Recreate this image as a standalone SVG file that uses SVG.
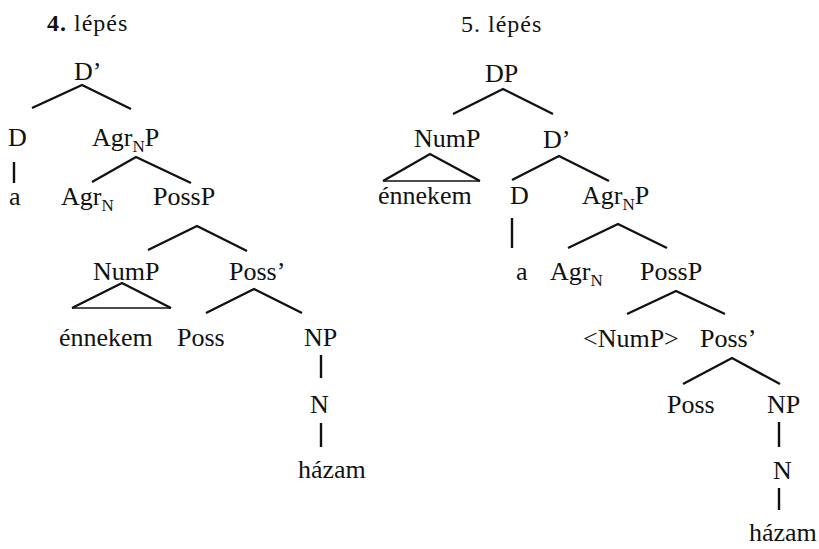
<svg xmlns="http://www.w3.org/2000/svg" width="819" height="549" viewBox="0 0 819 549" font-family="'Liberation Serif', 'Times New Roman', serif">
<style>
text{font-family:'Liberation Serif','Times New Roman',serif;font-size:26px;fill:#111}
.t{font-size:24px;letter-spacing:1px}
.sub{font-size:17px}
.e line,.e polyline{stroke:#111;stroke-width:2.4;fill:none;stroke-linecap:butt;stroke-linejoin:miter}
.e line.base{stroke-width:1.6}
</style>
<rect width="819" height="549" fill="#fff"/>
<text class="t" x="47" y="31"><tspan font-weight="bold">4.</tspan> lépés</text>
<text class="t" x="461" y="32">5. lépés</text>
<g id="left-tree">
<g id="L-Dbar"><text x="74" y="80">D’</text></g>
<g id="L-D"><text x="8" y="146">D</text></g>
<g id="L-a"><text x="9" y="205">a</text></g>
<g id="L-AgrNP"><text x="92" y="146">Agr<tspan class="sub" dy="6">N</tspan><tspan dy="-6">P</tspan></text></g>
<g id="L-AgrN"><text x="61" y="205">Agr<tspan class="sub" dy="6">N</tspan></text></g>
<g id="L-PossP"><text x="153" y="205">PossP</text></g>
<g id="L-NumP"><text x="93" y="280">NumP</text></g>
<g id="L-Possbar"><text x="229" y="280">Poss’</text></g>
<g id="L-ennekem"><text x="59" y="346">énnekem</text></g>
<g id="L-Poss"><text x="177" y="346">Poss</text></g>
<g id="L-NP"><text x="304" y="346">NP</text></g>
<g id="L-N"><text x="310" y="413">N</text></g>
<g id="L-hazam"><text x="298" y="478">házam</text></g>
</g>
<g id="right-tree">
<g id="R-DP"><text x="485" y="82">DP</text></g>
<g id="R-NumP"><text x="414" y="147">NumP</text></g>
<g id="R-Dbar"><text x="543" y="148">D’</text></g>
<g id="R-ennekem"><text x="378" y="204">énnekem</text></g>
<g id="R-D"><text x="510" y="204">D</text></g>
<g id="R-AgrNP"><text x="582" y="204">Agr<tspan class="sub" dy="6">N</tspan><tspan dy="-6">P</tspan></text></g>
<g id="R-a"><text x="516" y="280">a</text></g>
<g id="R-AgrN"><text x="550" y="280">Agr<tspan class="sub" dy="6">N</tspan></text></g>
<g id="R-PossP"><text x="640" y="280">PossP</text></g>
<g id="R-NumPtrace"><text x="583" y="347">&lt;NumP&gt;</text></g>
<g id="R-Possbar"><text x="700" y="347">Poss’</text></g>
<g id="R-Poss"><text x="667" y="413">Poss</text></g>
<g id="R-NP"><text x="767" y="413">NP</text></g>
<g id="R-N"><text x="773" y="479">N</text></g>
<g id="R-hazam"><text x="749" y="541">házam</text></g>
</g>
<g id="connectors" class="e">
<polyline points="32,108 82,85 131,109"/>
<line x1="14" y1="162" x2="14" y2="183"/>
<polyline points="92,182 136,157 191,183"/>
<polyline points="148,250 197,226 247,251"/>
<polyline points="72,308 122,283 171,308"/>
<line class="base" x1="72" y1="308" x2="171" y2="308"/>
<polyline points="206,313 254,289 302,313"/>
<line x1="321" y1="355" x2="321" y2="378"/>
<line x1="321" y1="423" x2="321" y2="447"/>
<polyline points="453,114 503,89 553,114"/>
<polyline points="383,181 430,154 480,181"/>
<line class="base" x1="383" y1="181" x2="480" y2="181"/>
<polyline points="512,180 559,156 609,181"/>
<line x1="512" y1="218" x2="512" y2="248"/>
<polyline points="568,248 618,224 667,248"/>
<polyline points="627,314 676,291 725,314"/>
<polyline points="683,384 732,358 780,384"/>
<line x1="779" y1="422" x2="779" y2="447"/>
<line x1="779" y1="488" x2="779" y2="510"/>
</g>
</svg>
